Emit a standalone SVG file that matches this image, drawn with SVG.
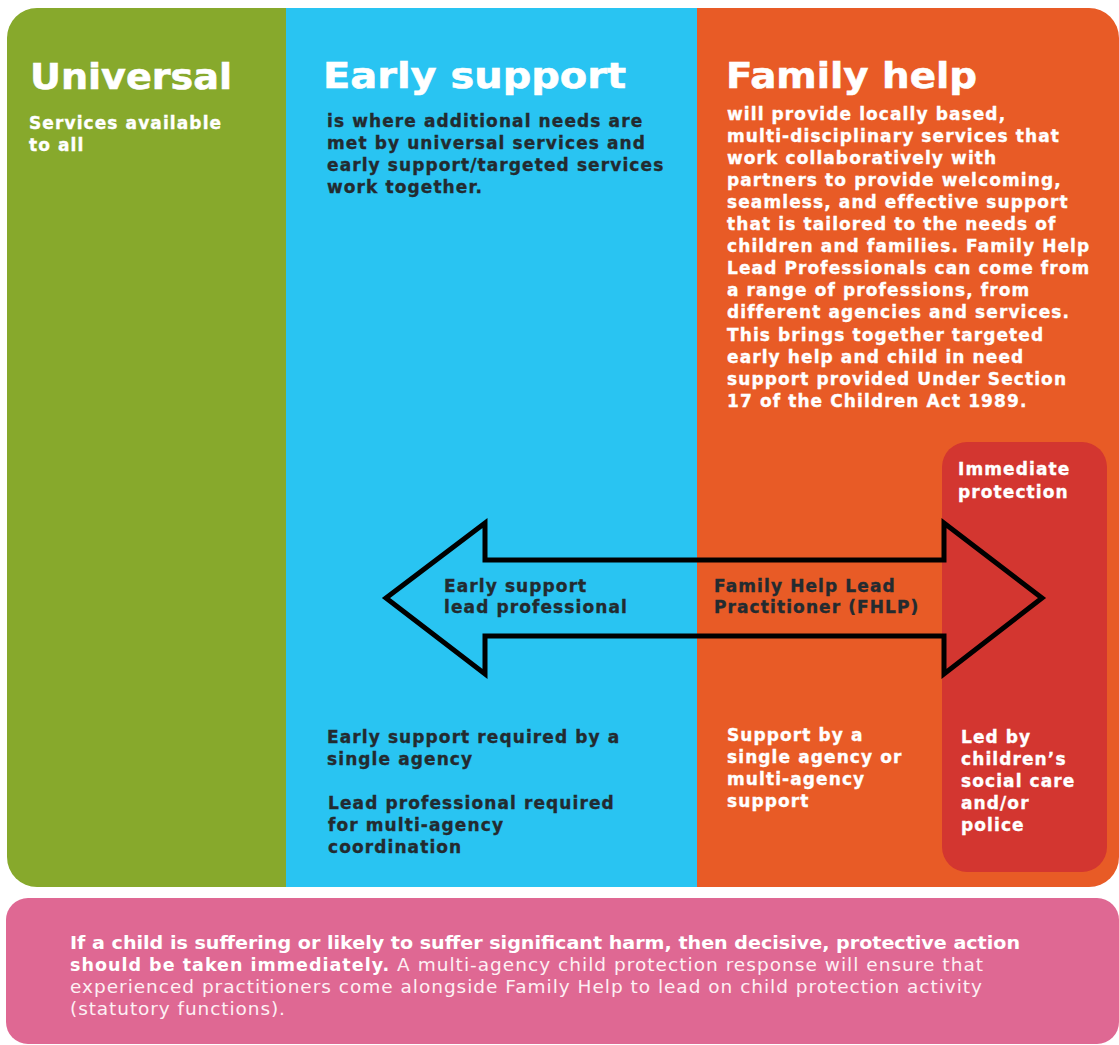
<svg xmlns="http://www.w3.org/2000/svg" width="1119" height="1045" viewBox="0 0 1119 1045">
<style>
.h{font-family:"DejaVu Sans","Liberation Sans",sans-serif;font-weight:bold;font-size:36px;fill:#ffffff;stroke:#ffffff;stroke-width:0.6}
.b{font-family:"DejaVu Sans","Liberation Sans",sans-serif;font-weight:bold;font-size:17px;letter-spacing:1.1px}
.w{fill:#ffffff;stroke:#ffffff;stroke-width:0.35}
.d{fill:#232b30;stroke:#232b30;stroke-width:0.35}
.p{font-family:"DejaVu Sans","Liberation Sans",sans-serif;font-size:18.5px;fill:#fdf0f4}
.pb{font-weight:bold;font-size:17.5px;fill:#ffffff}
.arrow{fill:none;stroke:#000000;stroke-width:5;stroke-linejoin:miter;stroke-miterlimit:10}
</style>
<rect width="1119" height="1045" fill="#ffffff"/>
<g id="node-universal">
<path d="M7,38 A30,30 0 0 1 37,8 H287 V887 H37 A30,30 0 0 1 7,857 Z" fill="#87a92c"/>
<text class="h" x="30" y="89" textLength="202" lengthAdjust="spacingAndGlyphs">Universal</text>
<text class="b w" x="29" y="129">Services available</text>
<text class="b w" x="29" y="151">to all</text>
</g>
<g id="node-early-support">
<rect x="286" y="8" width="412" height="879" fill="#29c4f2"/>
<text class="h" x="323" y="88" textLength="303" lengthAdjust="spacingAndGlyphs">Early support</text>
<text class="b d" x="327" y="127">is where additional needs are</text>
<text class="b d" x="327" y="149">met by universal services and</text>
<text class="b d" x="327" y="171">early support/targeted services</text>
<text class="b d" x="327" y="193">work together.</text>
<text class="b d" x="327" y="743">Early support required by a</text>
<text class="b d" x="327" y="765">single agency</text>
<text class="b d" x="328" y="809">Lead professional required</text>
<text class="b d" x="328" y="831">for multi-agency</text>
<text class="b d" x="328" y="853">coordination</text>
</g>
<g id="node-family-help">
<path d="M697,8 H1089 A30,30 0 0 1 1119,38 V857 A30,30 0 0 1 1089,887 H697 Z" fill="#e85b26"/>
<text class="h" x="726" y="88" textLength="251" lengthAdjust="spacingAndGlyphs">Family help</text>
<text class="b w" x="727" y="120">will provide locally based,</text>
<text class="b w" x="727" y="142">multi-disciplinary services that</text>
<text class="b w" x="727" y="164">work collaboratively with</text>
<text class="b w" x="727" y="186">partners to provide welcoming,</text>
<text class="b w" x="727" y="208">seamless, and effective support</text>
<text class="b w" x="727" y="230">that is tailored to the needs of</text>
<text class="b w" x="727" y="252">children and families. Family Help</text>
<text class="b w" x="727" y="274">Lead Professionals can come from</text>
<text class="b w" x="727" y="296">a range of professions, from</text>
<text class="b w" x="727" y="318">different agencies and services.</text>
<text class="b w" x="727" y="341">This brings together targeted</text>
<text class="b w" x="727" y="363">early help and child in need</text>
<text class="b w" x="727" y="385">support provided Under Section</text>
<text class="b w" x="727" y="407">17 of the Children Act 1989.</text>
<text class="b w" x="727" y="741">Support by a</text>
<text class="b w" x="727" y="763">single agency or</text>
<text class="b w" x="727" y="785">multi-agency</text>
<text class="b w" x="727" y="807">support</text>
</g>
<g id="node-immediate-protection">
<rect x="942" y="442" width="165" height="430" rx="25" ry="25" fill="#d33630"/>
<text class="b w" x="958" y="475">Immediate</text>
<text class="b w" x="958" y="498">protection</text>
<text class="b w" x="961" y="743">Led by</text>
<text class="b w" x="961" y="765">children’s</text>
<text class="b w" x="961" y="787">social care</text>
<text class="b w" x="961" y="809">and/or</text>
<text class="b w" x="961" y="831">police</text>
</g>
<g id="connectors">
<path class="arrow" d="M386,598 L485,523 L485,560 L944,560 L944,523 L1042,598 L944,674 L944,636 L485,636 L485,674 Z"/>
<text class="b d" x="444" y="592">Early support</text>
<text class="b d" x="444" y="613">lead professional</text>
<text class="b d" x="714" y="592">Family Help Lead</text>
<text class="b d" x="714" y="613">Practitioner (FHLP)</text>
</g>
<g id="node-protection-note">
<rect x="6" y="898" width="1113" height="146" rx="22" ry="22" fill="#df6893"/>
<text class="p" x="70" y="949" textLength="950" lengthAdjust="spacingAndGlyphs"><tspan class="pb">If a child is suffering or likely to suffer significant harm, then decisive, protective action</tspan></text>
<text class="p" x="70" y="971" textLength="913" lengthAdjust="spacing"><tspan class="pb">should be taken immediately.</tspan> A multi-agency child protection response will ensure that</text>
<text class="p" x="70" y="993" textLength="912" lengthAdjust="spacing">experienced practitioners come alongside Family Help to lead on child protection activity</text>
<text class="p" x="70" y="1015" textLength="215" lengthAdjust="spacing">(statutory functions).</text>
</g>
</svg>
